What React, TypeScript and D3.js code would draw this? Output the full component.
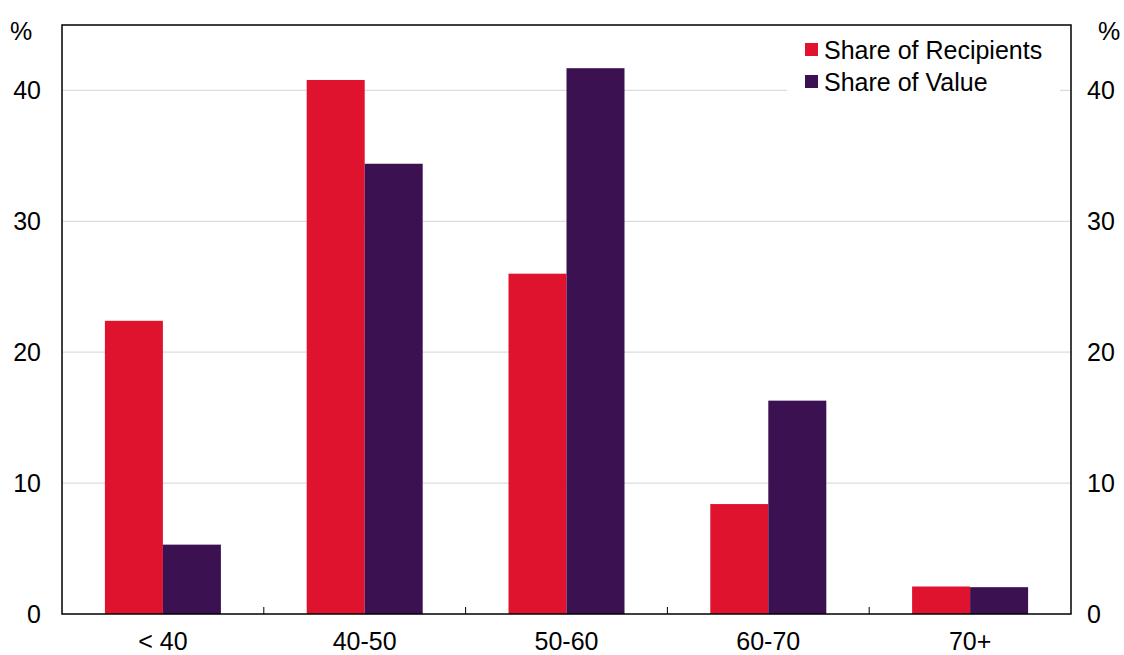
import React from "react";
import * as d3 from "d3";

const categories = ["< 40", "40-50", "50-60", "60-70", "70+"];
const recipients = [22.4, 40.8, 26.0, 8.4, 2.1];
const value = [5.3, 34.4, 41.7, 16.3, 2.05];
const seriesNames = ["Share of Recipients", "Share of Value"];
const yTicks = [0, 10, 20, 30, 40];

const W = 1124, H = 655;
const L = 62, R = 1071, T = 25, B = 614;
const colors = ["#E0132E", "#3C1152"];
const font = "'Liberation Sans', Arial, sans-serif";
const FS = 25;

export default function App() {
  const x = d3.scaleBand<string>().domain(categories).range([L, R]);
  const inner = d3.scaleBand<number>().domain([0, 1]).range([0, 116]);
  const y = d3.scaleLinear().domain([0, 45]).range([B, T]);
  const off = (x.bandwidth() - 116) / 2;
  const series = [recipients, value];
  return (
    <svg width={W} height={H} style={{ position: "absolute", left: 0, top: 0 }} fontFamily={font}>
      <rect x={0} y={0} width={W} height={H} fill="#fff" />
      {yTicks.filter(t => t > 0).map(t => (
        <line key={t} x1={L} x2={R} y1={y(t)} y2={y(t)} stroke="#dcdcdc" strokeWidth={1.2} />
      ))}
      {series.map((s, si) =>
        s.map((v, i) => (
          <rect key={si + "-" + i}
            x={(x(categories[i]) as number) + off + (inner(si) as number)}
            y={y(v)} width={inner.bandwidth()} height={B - y(v)} fill={colors[si]} />
        ))
      )}
      {categories.slice(1).map(c => (
        <line key={c} x1={x(c) as number} x2={x(c) as number} y1={B} y2={B - 7} stroke="#000" strokeWidth={1} />
      ))}
      <rect x={L} y={T} width={R - L} height={B - T} fill="none" stroke="#000" strokeWidth={1.5} />
      {/* legend */}
      <rect x={787} y={32} width={273} height={62} fill="#fff" />
      {seriesNames.map((n, i) => (
        <g key={n}>
          <rect x={805} y={43 + i * 32} width={13} height={13} fill={colors[i]} />
          <text x={824} y={59 + i * 32} fontSize={FS} fill="#000">{n}</text>
        </g>
      ))}
      {yTicks.map(t => (
        <g key={t}>
          <text x={41} y={y(t) + 9} fontSize={FS} textAnchor="end">{t}</text>
          <text x={1087} y={y(t) + 9} fontSize={FS} textAnchor="start">{t}</text>
        </g>
      ))}
      <text x={10} y={40} fontSize={FS}>%</text>
      <text x={1098} y={40} fontSize={FS}>%</text>
      {categories.map(c => (
        <text key={c} x={(x(c) as number) + x.bandwidth() / 2} y={650} fontSize={FS} textAnchor="middle">{c}</text>
      ))}
    </svg>
  );
}
